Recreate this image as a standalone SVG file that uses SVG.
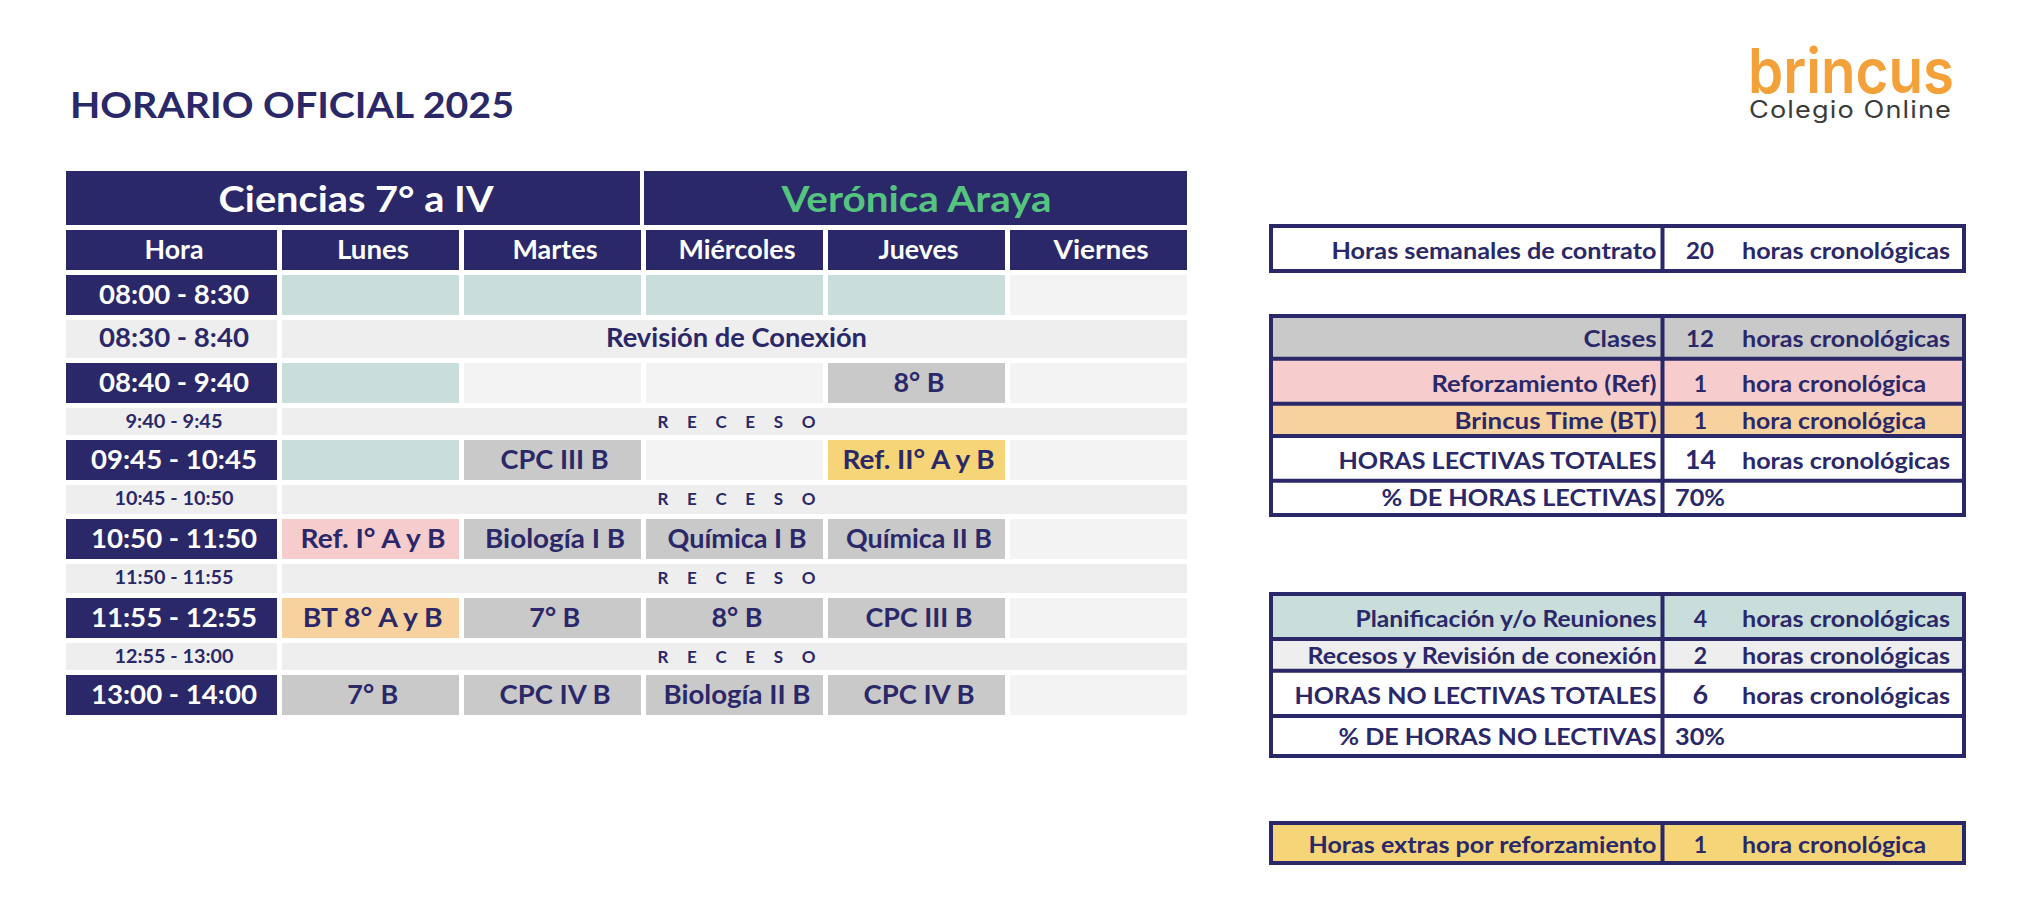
<svg xmlns="http://www.w3.org/2000/svg" width="2034" height="913" viewBox="0 0 2034 913">
<style>
text{font-family:"Lato","Noto Sans",sans-serif;font-weight:700;fill:#2a2868}
.c{text-anchor:middle}.e{text-anchor:end}
.n{fill:#2a2868}.w{fill:#fff}.m{fill:#c9dedb}.l{fill:#f3f3f3}.r{fill:#eee}.g{fill:#c9c9c9}.p{fill:#f6cccc}.o{fill:#f8d29e}.y{fill:#f6d578}
.t{font-size:26px}.s{font-size:18px}.rc{font-size:17px}.b{font-size:23px}.bb{font-size:27px}
.tw{fill:#fff}
.f{fill:none;stroke:#2a2868;stroke-width:4}
.d{stroke:#2a2868;stroke-width:4}
</style>
<text id="title" x="70" y="118" font-size="37" textLength="444" lengthAdjust="spacingAndGlyphs">HORARIO OFICIAL 2025</text>
<g id="logo">
<text x="1748" y="93" font-size="62" textLength="206" lengthAdjust="spacingAndGlyphs" style="fill:#f4a13a;font-family:'Inter',sans-serif;font-weight:600">brincus</text>
<text x="1749" y="118" font-size="24" textLength="203" lengthAdjust="spacingAndGlyphs" style="fill:#3c3c3c;font-weight:400;font-family:'Inter',sans-serif;letter-spacing:1px">Colegio Online</text>
</g>
<g id="schedule">
<rect class="n" x="66" y="171" width="574" height="54"/><rect class="n" x="644" y="171" width="543" height="54"/>
<text class="c tw" x="356" y="212" font-size="37" textLength="275" lengthAdjust="spacingAndGlyphs">Ciencias 7° a IV</text>
<text class="c" x="916.5" y="212" font-size="37" textLength="270" lengthAdjust="spacingAndGlyphs" style="fill:#55c47f">Verónica Araya</text>
<g id="head">
<rect class="n" x="66" y="230" width="211" height="40"/><rect class="n" x="282" y="230" width="177" height="40"/><rect class="n" x="464" y="230" width="177" height="40"/><rect class="n" x="646" y="230" width="177" height="40"/><rect class="n" x="828" y="230" width="177" height="40"/><rect class="n" x="1010" y="230" width="177" height="40"/>
<text class="c t tw" x="174" y="259" textLength="59" lengthAdjust="spacingAndGlyphs">Hora</text>
<text class="c t tw" x="373" y="259" textLength="72" lengthAdjust="spacingAndGlyphs">Lunes</text>
<text class="c t tw" x="555" y="259" textLength="85" lengthAdjust="spacingAndGlyphs">Martes</text>
<text class="c t tw" x="737" y="259" textLength="117" lengthAdjust="spacingAndGlyphs">Miércoles</text>
<text class="c t tw" x="918.5" y="259" textLength="80" lengthAdjust="spacingAndGlyphs">Jueves</text>
<text class="c t tw" x="1101" y="259" textLength="95" lengthAdjust="spacingAndGlyphs">Viernes</text>
</g>
<g id="row-0800">
<rect class="n" x="66" y="275" width="211" height="40"/><rect class="m" x="282" y="275" width="177" height="40"/><rect class="m" x="464" y="275" width="177" height="40"/><rect class="m" x="646" y="275" width="177" height="40"/><rect class="m" x="828" y="275" width="177" height="40"/><rect class="l" x="1010" y="275" width="177" height="40"/>
<text class="c t tw" x="174" y="304" textLength="150" lengthAdjust="spacingAndGlyphs">08:00 - 8:30</text>
</g>
<g id="row-0830">
<rect class="r" x="66" y="320" width="211" height="38"/><rect class="r" x="282" y="320" width="905" height="38"/>
<text class="c t" x="174" y="347" textLength="150" lengthAdjust="spacingAndGlyphs">08:30 - 8:40</text>
<text class="c t" x="736.5" y="347" textLength="261" lengthAdjust="spacingAndGlyphs">Revisión de Conexión</text>
</g>
<g id="row-0840">
<rect class="n" x="66" y="363" width="211" height="40"/><rect class="m" x="282" y="363" width="177" height="40"/><rect class="l" x="464" y="363" width="177" height="40"/><rect class="l" x="646" y="363" width="177" height="40"/><rect class="g" x="828" y="363" width="177" height="40"/><rect class="l" x="1010" y="363" width="177" height="40"/>
<text class="c t tw" x="174" y="392" textLength="150" lengthAdjust="spacingAndGlyphs">08:40 - 9:40</text>
<text class="c t" x="919" y="392" textLength="51" lengthAdjust="spacingAndGlyphs">8° B</text>
</g>
<g id="rec-0940">
<rect class="r" x="66" y="408" width="211" height="27"/><rect class="r" x="282" y="408" width="905" height="27"/>
<text class="c s" x="174" y="428" textLength="97" lengthAdjust="spacingAndGlyphs">9:40 - 9:45</text>
<text class="c rc" x="736.5" y="428" textLength="158" lengthAdjust="spacing">R E C E S O</text>
</g>
<g id="row-0945">
<rect class="n" x="66" y="440" width="211" height="40"/><rect class="m" x="282" y="440" width="177" height="40"/><rect class="g" x="464" y="440" width="177" height="40"/><rect class="l" x="646" y="440" width="177" height="40"/><rect class="y" x="828" y="440" width="177" height="40"/><rect class="l" x="1010" y="440" width="177" height="40"/>
<text class="c t tw" x="174" y="469" textLength="166" lengthAdjust="spacingAndGlyphs">09:45 - 10:45</text>
<text class="c t" x="554.6" y="469" textLength="108" lengthAdjust="spacingAndGlyphs">CPC III B</text>
<text class="c t" x="918.6" y="469" textLength="152" lengthAdjust="spacingAndGlyphs">Ref. II° A y B</text>
</g>
<g id="rec-1045">
<rect class="r" x="66" y="485" width="211" height="29"/><rect class="r" x="282" y="485" width="905" height="29"/>
<text class="c s" x="174" y="505" textLength="119" lengthAdjust="spacingAndGlyphs">10:45 - 10:50</text>
<text class="c rc" x="736.5" y="505" textLength="158" lengthAdjust="spacing">R E C E S O</text>
</g>
<g id="row-1050">
<rect class="n" x="66" y="519" width="211" height="40"/><rect class="p" x="282" y="519" width="177" height="40"/><rect class="g" x="464" y="519" width="177" height="40"/><rect class="g" x="646" y="519" width="177" height="40"/><rect class="g" x="828" y="519" width="177" height="40"/><rect class="l" x="1010" y="519" width="177" height="40"/>
<text class="c t tw" x="174" y="548" textLength="166" lengthAdjust="spacingAndGlyphs">10:50 - 11:50</text>
<text class="c t" x="373" y="548" textLength="145" lengthAdjust="spacingAndGlyphs">Ref. I° A y B</text>
<text class="c t" x="555" y="548" textLength="140" lengthAdjust="spacingAndGlyphs">Biología I B</text>
<text class="c t" x="737" y="548" textLength="139" lengthAdjust="spacingAndGlyphs">Química I B</text>
<text class="c t" x="919" y="548" textLength="146" lengthAdjust="spacingAndGlyphs">Química II B</text>
</g>
<g id="rec-1150">
<rect class="r" x="66" y="564" width="211" height="29"/><rect class="r" x="282" y="564" width="905" height="29"/>
<text class="c s" x="174" y="584" textLength="119" lengthAdjust="spacingAndGlyphs">11:50 - 11:55</text>
<text class="c rc" x="736.5" y="584" textLength="158" lengthAdjust="spacing">R E C E S O</text>
</g>
<g id="row-1155">
<rect class="n" x="66" y="598" width="211" height="40"/><rect class="o" x="282" y="598" width="177" height="40"/><rect class="g" x="464" y="598" width="177" height="40"/><rect class="g" x="646" y="598" width="177" height="40"/><rect class="g" x="828" y="598" width="177" height="40"/><rect class="l" x="1010" y="598" width="177" height="40"/>
<text class="c t tw" x="174" y="627" textLength="166" lengthAdjust="spacingAndGlyphs">11:55 - 12:55</text>
<text class="c t" x="372.7" y="627" textLength="140" lengthAdjust="spacingAndGlyphs">BT 8° A y B</text>
<text class="c t" x="554.8" y="627" textLength="51" lengthAdjust="spacingAndGlyphs">7° B</text>
<text class="c t" x="737" y="627" textLength="51" lengthAdjust="spacingAndGlyphs">8° B</text>
<text class="c t" x="919" y="627" textLength="107" lengthAdjust="spacingAndGlyphs">CPC III B</text>
</g>
<g id="rec-1255">
<rect class="r" x="66" y="643" width="211" height="27"/><rect class="r" x="282" y="643" width="905" height="27"/>
<text class="c s" x="174" y="663" textLength="119" lengthAdjust="spacingAndGlyphs">12:55 - 13:00</text>
<text class="c rc" x="736.5" y="663" textLength="158" lengthAdjust="spacing">R E C E S O</text>
</g>
<g id="row-1300">
<rect class="n" x="66" y="675" width="211" height="40"/><rect class="g" x="282" y="675" width="177" height="40"/><rect class="g" x="464" y="675" width="177" height="40"/><rect class="g" x="646" y="675" width="177" height="40"/><rect class="g" x="828" y="675" width="177" height="40"/><rect class="l" x="1010" y="675" width="177" height="40"/>
<text class="c t tw" x="174" y="704" textLength="166" lengthAdjust="spacingAndGlyphs">13:00 - 14:00</text>
<text class="c t" x="372.8" y="704" textLength="51" lengthAdjust="spacingAndGlyphs">7° B</text>
<text class="c t" x="555" y="704" textLength="111" lengthAdjust="spacingAndGlyphs">CPC IV B</text>
<text class="c t" x="737" y="704" textLength="147" lengthAdjust="spacingAndGlyphs">Biología II B</text>
<text class="c t" x="919" y="704" textLength="111" lengthAdjust="spacingAndGlyphs">CPC IV B</text>
</g>
</g>
<g id="contract">
<rect class="f" x="1271" y="226" width="693" height="45"/>
<line class="d" x1="1662.5" y1="226" x2="1662.5" y2="271"/>
<text class="b e" x="1656.5" y="259" textLength="325" lengthAdjust="spacingAndGlyphs">Horas semanales de contrato</text>
<text class="b c" x="1700" y="259" textLength="28" lengthAdjust="spacingAndGlyphs">20</text>
<text class="b" x="1742" y="259" textLength="208" lengthAdjust="spacingAndGlyphs">horas cronológicas</text>
</g>
<g id="lectivas">
<rect class="g" x="1271" y="316" width="693" height="43"/><rect class="p" x="1271" y="359" width="693" height="45"/><rect class="o" x="1271" y="404" width="693" height="32"/>
<rect class="f" x="1271" y="316" width="693" height="199"/>
<line class="d" x1="1271" y1="358.7" x2="1964" y2="358.7"/><line class="d" x1="1271" y1="403.7" x2="1964" y2="403.7"/><line class="d" x1="1271" y1="436" x2="1964" y2="436"/><line class="d" x1="1271" y1="480.7" x2="1964" y2="480.7"/>
<line class="d" x1="1662.5" y1="316" x2="1662.5" y2="515"/>
<text class="b e" x="1656.5" y="347" textLength="73" lengthAdjust="spacingAndGlyphs">Clases</text>
<text class="b c" x="1700" y="347" textLength="28" lengthAdjust="spacingAndGlyphs">12</text>
<text class="b" x="1742" y="347" textLength="208" lengthAdjust="spacingAndGlyphs">horas cronológicas</text>
<text class="b e" x="1656.5" y="392" textLength="225" lengthAdjust="spacingAndGlyphs">Reforzamiento (Ref)</text>
<text class="b c" x="1700.5" y="392">1</text>
<text class="b" x="1742" y="392" textLength="184" lengthAdjust="spacingAndGlyphs">hora cronológica</text>
<text class="b e" x="1656.5" y="429" textLength="202" lengthAdjust="spacingAndGlyphs">Brincus Time (BT)</text>
<text class="b c" x="1700.5" y="429">1</text>
<text class="b" x="1742" y="429" textLength="184" lengthAdjust="spacingAndGlyphs">hora cronológica</text>
<text class="b e" x="1656.5" y="469" textLength="318" lengthAdjust="spacingAndGlyphs">HORAS LECTIVAS TOTALES</text>
<text class="bb c" x="1700.5" y="469" textLength="31" lengthAdjust="spacingAndGlyphs">14</text>
<text class="b" x="1742" y="469" textLength="208" lengthAdjust="spacingAndGlyphs">horas cronológicas</text>
<text class="b e" x="1656.5" y="506" textLength="275" lengthAdjust="spacingAndGlyphs">% DE HORAS LECTIVAS</text>
<text class="b c" x="1700" y="506" textLength="50" lengthAdjust="spacingAndGlyphs">70%</text>
</g>
<g id="no-lectivas">
<rect class="m" x="1271" y="594" width="693" height="45"/><rect class="r" x="1271" y="639" width="693" height="32"/>
<rect class="f" x="1271" y="594" width="693" height="162"/>
<line class="d" x1="1271" y1="639" x2="1964" y2="639"/><line class="d" x1="1271" y1="670.7" x2="1964" y2="670.7"/><line class="d" x1="1271" y1="716" x2="1964" y2="716"/>
<line class="d" x1="1662.5" y1="594" x2="1662.5" y2="756"/>
<text class="b e" x="1656.5" y="627" textLength="301" lengthAdjust="spacingAndGlyphs">Planificación y/o Reuniones</text>
<text class="b c" x="1700.3" y="627">4</text>
<text class="b" x="1742" y="627" textLength="208" lengthAdjust="spacingAndGlyphs">horas cronológicas</text>
<text class="b e" x="1656.5" y="664" textLength="349" lengthAdjust="spacingAndGlyphs">Recesos y Revisión de conexión</text>
<text class="b c" x="1700.3" y="664">2</text>
<text class="b" x="1742" y="664" textLength="208" lengthAdjust="spacingAndGlyphs">horas cronológicas</text>
<text class="b e" x="1656.5" y="704" textLength="362" lengthAdjust="spacingAndGlyphs">HORAS NO LECTIVAS TOTALES</text>
<text class="bb c" x="1700.3" y="704">6</text>
<text class="b" x="1742" y="704" textLength="208" lengthAdjust="spacingAndGlyphs">horas cronológicas</text>
<text class="b e" x="1656.5" y="745" textLength="318" lengthAdjust="spacingAndGlyphs">% DE HORAS NO LECTIVAS</text>
<text class="b c" x="1700" y="745" textLength="50" lengthAdjust="spacingAndGlyphs">30%</text>
</g>
<g id="extras">
<rect class="y" x="1271" y="823" width="693" height="40"/>
<rect class="f" x="1271" y="823" width="693" height="40"/>
<line class="d" x1="1662.5" y1="823" x2="1662.5" y2="863"/>
<text class="b e" x="1656.5" y="853" textLength="348" lengthAdjust="spacingAndGlyphs">Horas extras por reforzamiento</text>
<text class="b c" x="1700.5" y="853">1</text>
<text class="b" x="1742" y="853" textLength="184" lengthAdjust="spacingAndGlyphs">hora cronológica</text>
</g>
</svg>
